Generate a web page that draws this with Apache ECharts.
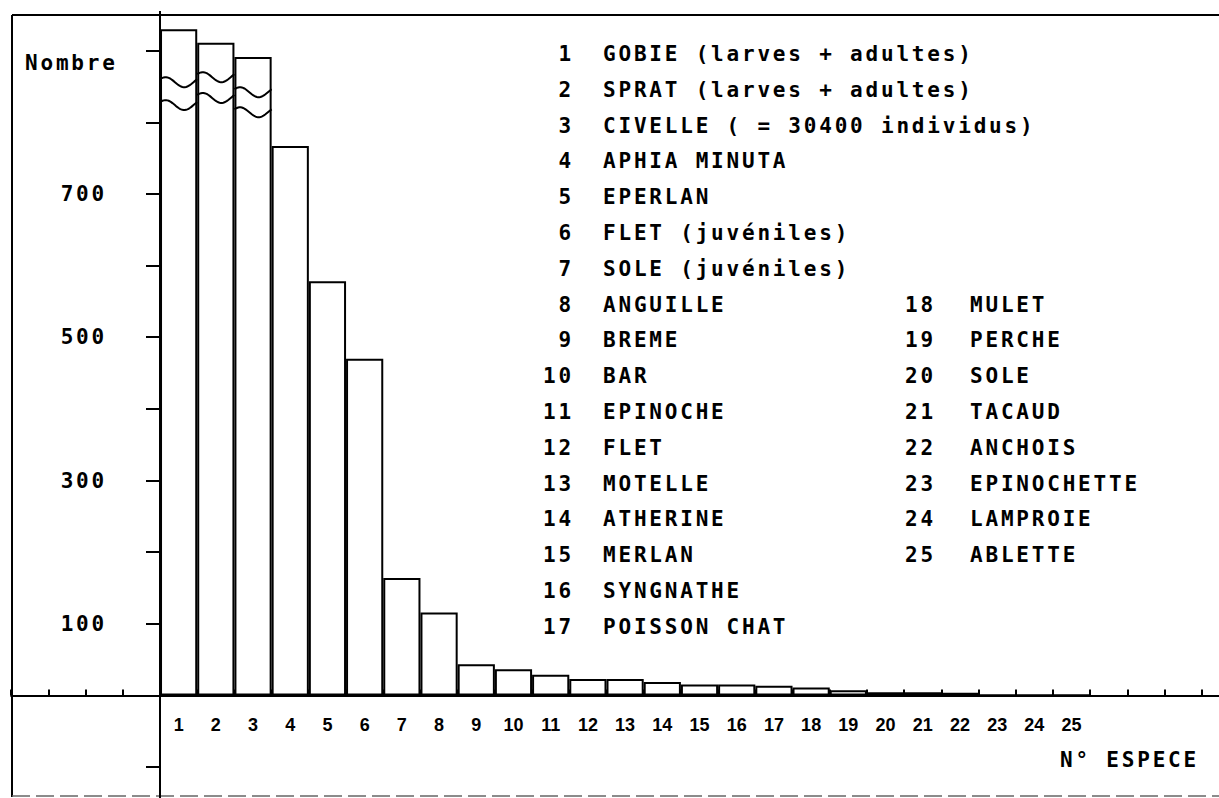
<!DOCTYPE html>
<html>
<head>
<meta charset="utf-8">
<script src="https://cdn.jsdelivr.net/npm/echarts@6/dist/echarts.min.js"></script>
<style>
	html, body { margin: 0; padding: 0; background: #fff; }
	#main { width: 1219px; height: 798px; }
	/* police "écran" espacée comme l'original */
	#main text[style*="Mono"] { letter-spacing: 2.8px; }
</style>
</head>
<body>
<div id="main"></div>
<script>
var especes = ['GOBIE (larves + adultes)', 'SPRAT (larves + adultes)', 'CIVELLE ( = 30400 individus)',
	'APHIA MINUTA', 'EPERLAN', 'FLET (juvéniles)', 'SOLE (juvéniles)', 'ANGUILLE', 'BREME', 'BAR',
	'EPINOCHE', 'FLET', 'MOTELLE', 'ATHERINE', 'MERLAN', 'SYNGNATHE', 'POISSON CHAT', 'MULET',
	'PERCHE', 'SOLE', 'TACAUD', 'ANCHOIS', 'EPINOCHETTE', 'LAMPROIE', 'ABLETTE'];
var nombres = [930, 911, 891, 767, 578, 470, 164, 116, 43.5, 36.5, 29, 23, 23, 19, 15.5, 15.5,
	13.5, 11, 7.5, 4.5, 4.5, 4, 1, 1, 1];
var ticksY = [100, 300, 500, 700];
// coupures (barres 1 a 3)
var coupeHaut = [856, 863, 842];
var coupeBas = [824, 834, 814];
var videGauche = ['g1', 'g2', 'g3', 'g4'];
var videDroite = ['d1', 'd2', 'd3', 'd4'];

var numeros = [];
for (var i = 0; i < especes.length; i++) {
	numeros.push(String(i + 1));
}
var categories = videGauche.concat(numeros).concat(videDroite);

var barres = [];
for (var i = 0; i < nombres.length; i++) {
	barres.push([numeros[i], nombres[i]]);
}
var coupes = [];
for (var i = 0; i < coupeHaut.length; i++) {
	coupes.push([numeros[i], coupeHaut[i], coupeBas[i]]);
}

var police = 'bold 21px "DejaVu Sans Mono"';

function texte(t, x, y, align) {
	return {
		type: 'text',
		z: 10,
		style: {
			text: t, x: x, y: y, font: police, fill: '#000',
			align: align, textAlign: align,
			verticalAlign: 'middle', textVerticalAlign: 'middle'
		}
	};
}

var graphiques = [
	{type: 'line', shape: {x1: 12, y1: 15, x2: 1219, y2: 15}, style: {stroke: '#000', lineWidth: 2}},
	{type: 'line', shape: {x1: 12, y1: 15, x2: 12, y2: 797}, style: {stroke: '#000', lineWidth: 2}},
	{type: 'line', shape: {x1: 12, y1: 796, x2: 1219, y2: 796}, style: {stroke: '#666', lineWidth: 1.5, lineDash: [18, 6]}},
	{type: 'rect', shape: {x: 150, y: 0, width: 20, height: 11}, style: {fill: '#fff'}, z: 10},
	texte('Nombre', 25, 63, 'left'),
	texte('N° ESPECE', 1060, 760, 'left')
];
for (var i = 0; i < especes.length; i++) {
	if (i < 17) {
		var y = 54 + i * 35.8;
		graphiques.push(texte(numeros[i], 574, y, 'right'));
		graphiques.push(texte(especes[i], 603, y, 'left'));
	} else {
		var y = 54 + (i - 10) * 35.8;
		graphiques.push(texte(numeros[i], 905, y, 'left'));
		graphiques.push(texte(especes[i], 970, y, 'left'));
	}
}

function vague(x0, w, y, amp) {
	var pts = [];
	for (var k = 0; k <= 30; k++) {
		var t = k / 30;
		pts.push([x0 + t * w, y - amp * Math.cos(2 * Math.PI * (t - 0.15))]);
	}
	return pts;
}

var myChart = echarts.init(document.getElementById('main'), null, {renderer: 'svg'});
option = {
	animation: false,
	backgroundColor: '#fff',
	grid: {left: 11.2, right: -20, top: -21, bottom: -40.8, containLabel: false, outerBoundsMode: 'none'},
	xAxis: {
		type: 'category',
		data: categories,
		boundaryGap: true,
		// axe place au niveau du zero (decale depuis le bas de la grille)
		offset: -143.3,
		axisLine: {onZero: false, lineStyle: {color: '#000', width: 2}},
		axisTick: {show: true, inside: true, length: 6, interval: 0, lineStyle: {color: '#000', width: 2}},
		axisLabel: {
			interval: 0,
			margin: 20,
			color: '#000',
			fontFamily: 'Liberation Sans',
			fontWeight: 'bold',
			fontSize: 18,
			formatter: function(v) {
				return numeros.indexOf(v) >= 0 ? v : '';
			}
		},
		splitLine: {show: false}
	},
	yAxis: {
		type: 'value',
		min: -200,
		max: 1000,
		interval: 100,
		offset: -148.8,
		axisLine: {show: true, onZero: false, lineStyle: {color: '#000', width: 2}},
		axisTick: {show: true, inside: false, length: 14, lineStyle: {color: '#000', width: 2}},
		axisLabel: {
			margin: 53,
			color: '#000',
			fontFamily: 'DejaVu Sans Mono',
			fontWeight: 'bold',
			fontSize: 21,
			formatter: function(v) {
				return ticksY.indexOf(v) >= 0 ? String(v) : '';
			}
		},
		splitLine: {show: false}
	},
	graphic: graphiques,
	series: [{
		type: 'bar',
		data: barres,
		barCategoryGap: '0%',
		itemStyle: {color: '#fff', borderColor: '#000', borderWidth: 2}
	}, {
		type: 'custom',
		data: coupes,
		z: 5,
		renderItem: function(params, api) {
			var haut = api.coord([api.value(0), api.value(1)]);
			var bas = api.coord([api.value(0), api.value(2)]);
			var w = api.size([1, 0])[0];
			var x0 = haut[0] - w / 2;
			return {
				type: 'group',
				children: [{
					type: 'polyline',
					shape: {points: vague(x0, w, haut[1], 5)},
					style: {stroke: '#000', lineWidth: 2, fill: null}
				}, {
					type: 'polyline',
					shape: {points: vague(x0, w, bas[1], 5)},
					style: {stroke: '#000', lineWidth: 2, fill: null}
				}]
			};
		}
	}]
};
myChart.setOption(option);
</script>
</body>
</html>
